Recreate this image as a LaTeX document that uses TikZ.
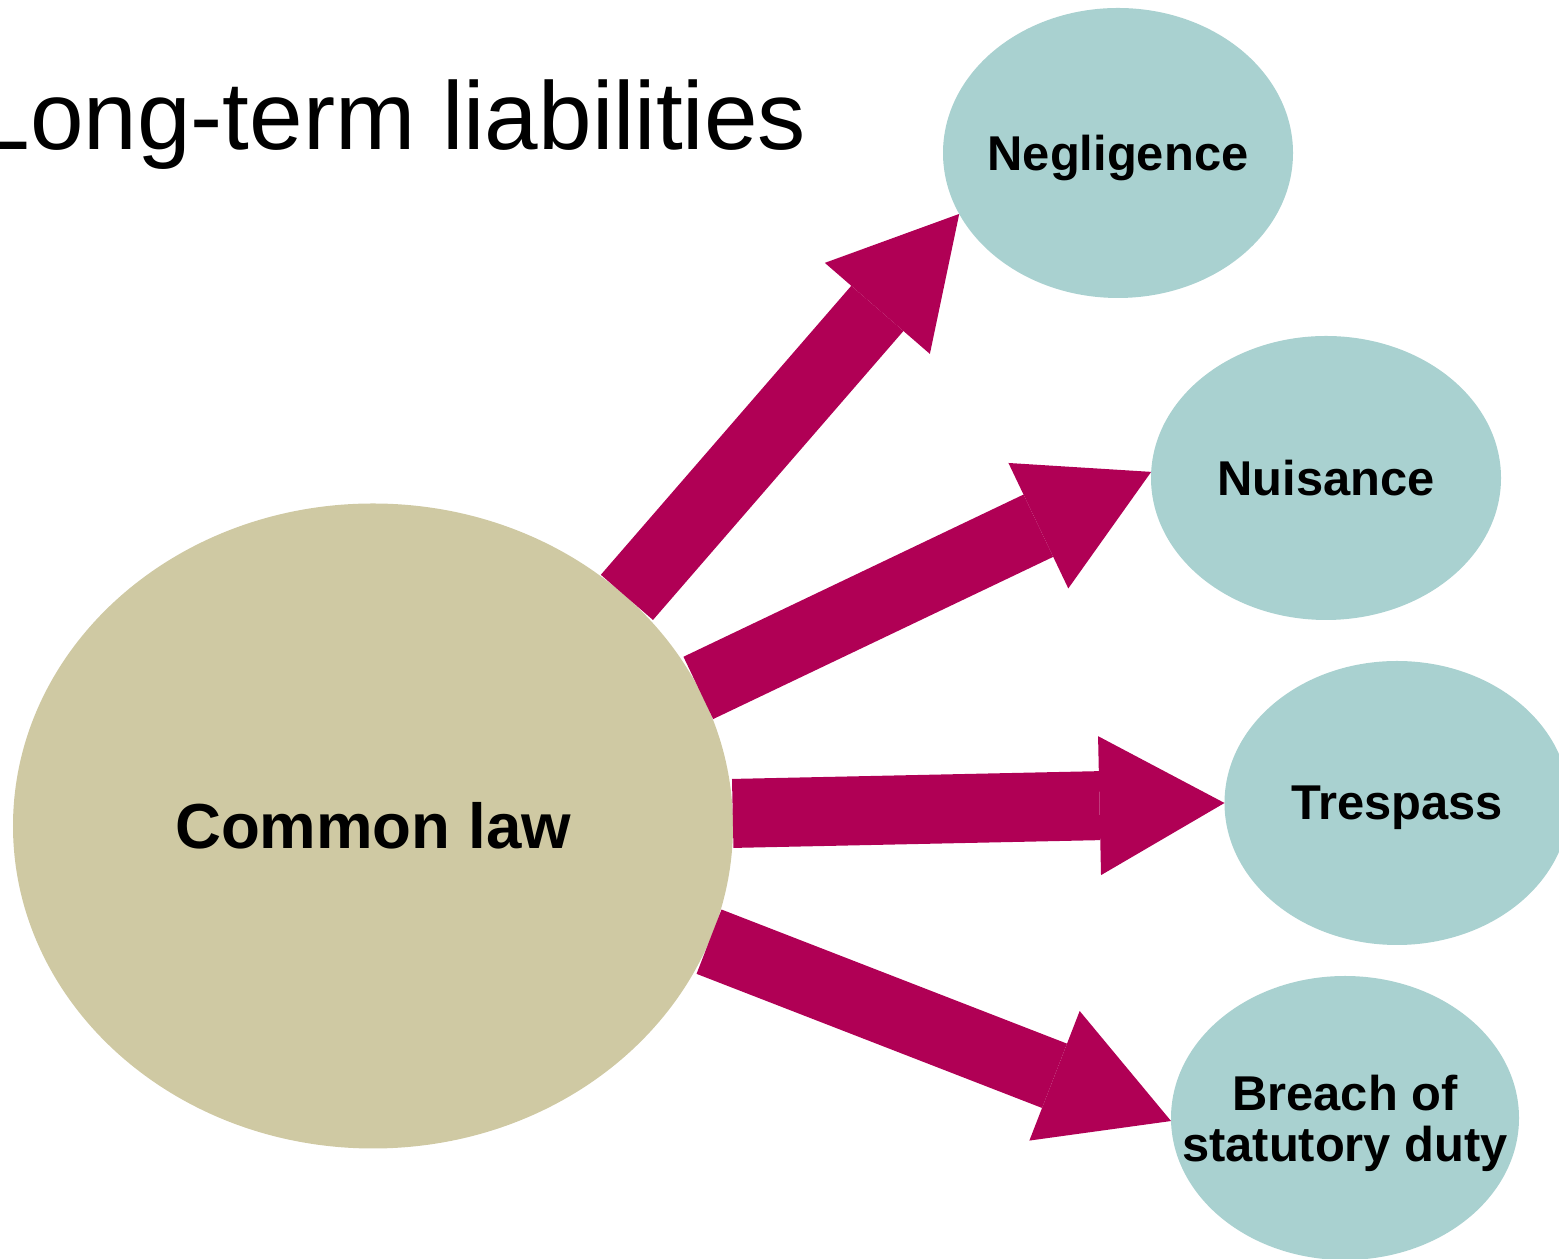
\documentclass[tikz,border=0pt]{standalone}
\usepackage{fontspec}
\setmainfont{Liberation Sans}
\usepackage{tikz}
\usetikzlibrary{shapes.geometric}
\usetikzlibrary{arrows.meta}
\definecolor{lawbeige}{RGB}{207,201,163}
\definecolor{tortteal}{RGB}{169,209,208}
\definecolor{arrowred}{RGB}{176,0,85}

\begin{document}
\begin{tikzpicture}[
	bubble/.style={shape=ellipse, fill=tortteal, inner sep=0pt, outer sep=0pt},
	bubbletext/.style={anchor=center, align=center, inner sep=0pt, text depth=0pt, font=\fontsize{13.9}{14.5}\selectfont\bfseries},
	fatarrow/.style={color=arrowred, line width=0.69cm, -{Triangle[length=1.25cm, width=1.39cm, line width=0pt]}}
	]
		\useasboundingbox (0, 0) rectangle (15.59, 12.59);
		% Nodes:
		\node[anchor=base east, inner sep=0pt, font=\fontsize{27.4}{30}\selectfont](title) at (8.07, 11.09){Long-term liabilities};
		\node[shape=ellipse, fill=lawbeige, inner sep=0pt, outer sep=0pt, minimum width=7.2cm, minimum height=6.45cm, font=\fontsize{18.1}{20}\selectfont\bfseries](cl) at (3.73, 4.33){Common law};
		\node[bubble, minimum width=3.5cm, minimum height=2.9cm](neg) at (11.18, 11.06){} node[bubbletext](negtext) at (neg.center){Negligence};
		\node[bubble, minimum width=3.5cm, minimum height=2.84cm](nui) at (13.26, 7.81){} node[bubbletext](nuitext) at (nui.center){Nuisance};
		\node[bubble, minimum width=3.45cm, minimum height=2.84cm](tre) at (13.97, 4.56){} node[bubbletext](tretext) at (tre.center){Trespass};
		\node[bubble, minimum width=3.48cm, minimum height=2.84cm](bsd) at (13.45, 1.41){} node[bubbletext](bsdtext) at (bsd.center){Breach of\\statutory duty};
		% Arrows:
		\draw[fatarrow] (cl.42.6) -- (neg.201.7);
		\draw[fatarrow] (cl.23.2) -- (nui.178.3);
		\draw[fatarrow] (cl.2.1) -- (tre.180);
		\draw[fatarrow] (cl.-19.6) -- (bsd.181.3);
	\end{tikzpicture}
\end{document}
